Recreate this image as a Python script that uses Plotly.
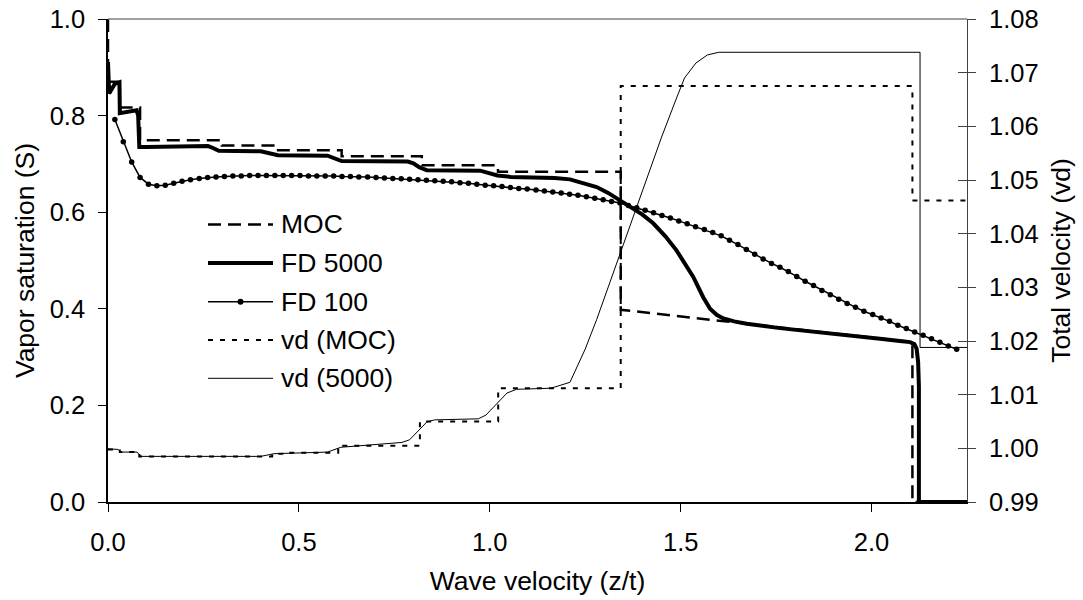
import plotly.graph_objects as go

# ---- Saturation profiles, S versus z/t ----
# Method of characteristics (steps, shock at 1.343, rarefaction tail, trailing shock)
moc_x = [0.0, 0.0, 0.031, 0.031, 0.084, 0.084, 0.298, 0.298, 0.433, 0.433,
         0.612, 0.612, 0.822, 0.822, 1.0215, 1.0215, 1.343, 1.343, 2.107, 2.107, 2.25]
moc_s = [1.0, 0.870, 0.870, 0.817, 0.817, 0.749, 0.749, 0.738, 0.738, 0.7285,
         0.7285, 0.716, 0.716, 0.697, 0.697, 0.6835, 0.6835, 0.398, 0.331, 0.0, 0.0]

# Finite differences, 5000 cells
fd5000_x = [0.000, 0.003, 0.018, 0.030, 0.031, 0.040, 0.075, 0.079, 0.082, 0.100,
            0.200, 0.262, 0.275, 0.290, 0.400, 0.420, 0.445, 0.575, 0.590, 0.612,
            0.785, 0.800, 0.815, 0.835, 0.975, 0.995, 1.020, 1.055, 1.170, 1.210,
            1.250, 1.280, 1.310, 1.341, 1.376, 1.400, 1.428, 1.460, 1.489, 1.510,
            1.533, 1.559, 1.577, 1.595, 1.612, 1.640, 1.673, 1.760, 1.847, 1.940,
            2.022, 2.080, 2.101, 2.112, 2.118, 2.122, 2.124, 2.124, 2.25]
fd5000_s = [0.911, 0.846, 0.866, 0.869, 0.805, 0.806, 0.811, 0.800, 0.735, 0.735,
            0.736, 0.737, 0.733, 0.727, 0.726, 0.723, 0.718, 0.717, 0.713, 0.706,
            0.705, 0.701, 0.693, 0.687, 0.686, 0.681, 0.676, 0.673, 0.671, 0.668,
            0.660, 0.652, 0.640, 0.625, 0.608, 0.595, 0.577, 0.550, 0.521, 0.495,
            0.466, 0.424, 0.400, 0.387, 0.380, 0.374, 0.369, 0.360, 0.352, 0.345,
            0.338, 0.333, 0.331, 0.327, 0.3175, 0.290, 0.240, 0.0, 0.0]

# Finite differences, 100 cells (one marker per cell)
fd100_x = [0.018, 0.040, 0.062, 0.084, 0.106, 0.128, 0.150, 0.172, 0.194, 0.216,
           0.239, 0.261, 0.283, 0.305, 0.327, 0.349, 0.371, 0.393, 0.415, 0.437,
           0.459, 0.481, 0.503, 0.525, 0.547, 0.569, 0.591, 0.613, 0.635, 0.657,
           0.680, 0.702, 0.724, 0.746, 0.768, 0.790, 0.812, 0.834, 0.856, 0.878,
           0.900, 0.922, 0.944, 0.966, 0.988, 1.010, 1.032, 1.054, 1.076, 1.098,
           1.121, 1.143, 1.165, 1.187, 1.209, 1.231, 1.253, 1.275, 1.297, 1.319,
           1.341, 1.363, 1.385, 1.407, 1.429, 1.451, 1.473, 1.495, 1.517, 1.539,
           1.562, 1.584, 1.606, 1.628, 1.650, 1.672, 1.694, 1.716, 1.738, 1.760,
           1.782, 1.804, 1.826, 1.848, 1.870, 1.892, 1.914, 1.936, 1.958, 1.980,
           2.003, 2.025, 2.047, 2.069, 2.091, 2.113, 2.135, 2.157, 2.179, 2.201,
           2.223]
fd100_s = [0.792, 0.746, 0.704, 0.672, 0.658, 0.655, 0.656, 0.660, 0.664, 0.667,
           0.670, 0.672, 0.673, 0.674, 0.675, 0.675, 0.676, 0.676, 0.676, 0.676,
           0.676, 0.676, 0.676, 0.675, 0.675, 0.675, 0.675, 0.674, 0.674, 0.673,
           0.673, 0.672, 0.671, 0.670, 0.669, 0.668, 0.667, 0.666, 0.665, 0.664,
           0.663, 0.661, 0.660, 0.658, 0.656, 0.655, 0.653, 0.651, 0.649, 0.648,
           0.646, 0.644, 0.642, 0.640, 0.637, 0.635, 0.632, 0.629, 0.626, 0.622,
           0.619, 0.614, 0.609, 0.604, 0.599, 0.593, 0.588, 0.582, 0.576, 0.570,
           0.564, 0.558, 0.551, 0.542, 0.533, 0.523, 0.513, 0.503, 0.494, 0.486,
           0.477, 0.467, 0.457, 0.448, 0.438, 0.429, 0.420, 0.411, 0.403, 0.395,
           0.388, 0.381, 0.374, 0.366, 0.359, 0.352, 0.345, 0.338, 0.331, 0.323,
           0.316]

# ---- Total velocity profiles, vd versus z/t ----
vd_moc_x = [0.0, 0.031, 0.082, 0.43, 0.47, 0.603, 0.817, 1.022, 1.343, 2.107, 2.25]
vd_moc = [0.9998, 0.9993, 0.9985, 0.9990, 0.9992, 1.0005, 1.0050, 1.0112, 1.0675,
          1.0462, 1.0462]

vd5000_x = [0.0, 0.026, 0.034, 0.076, 0.086, 0.40, 0.435, 0.575, 0.61, 0.77,
            0.79, 0.81, 0.835, 0.855, 0.97, 0.99, 1.018, 1.045, 1.07, 1.16,
            1.21, 1.25, 1.28, 1.31, 1.343, 1.40, 1.45, 1.485, 1.51, 1.54,
            1.57, 1.60, 2.127, 2.127, 2.25]
vd5000 = [0.9999, 0.9998, 0.9993, 0.9993, 0.9985, 0.9985, 0.9990, 0.9993, 1.0002, 1.0011,
          1.0016, 1.0030, 1.0049, 1.0053, 1.0055, 1.0062, 1.0083, 1.0103, 1.0110, 1.0112,
          1.0123, 1.0185, 1.0240, 1.0300, 1.0370, 1.0482, 1.0580, 1.0645, 1.0690, 1.0718,
          1.0733, 1.0738, 1.0738, 1.0188, 1.0188]

x_ticks = [0.0, 0.5, 1.0, 1.5, 2.0]
s_ticks = [0.0, 0.2, 0.4, 0.6, 0.8, 1.0]
vd_ticks = [0.99, 1.00, 1.01, 1.02, 1.03, 1.04, 1.05, 1.06, 1.07, 1.08]

legend_names = ["MOC", "FD 5000", "FD 100", "vd (MOC)", "vd (5000)"]

FONT = "Liberation Sans, Arial, sans-serif"
BLACK = "#000000"

MOC_DASH = "13px,7px"
VD_MOC_DASH = "5px,7px"

fig = go.Figure()

fig.add_trace(go.Scatter(x=vd_moc_x, y=vd_moc, yaxis="y2", mode="lines",
                         line=dict(color=BLACK, width=2, dash=VD_MOC_DASH, shape="hv"),
                         name=legend_names[3], showlegend=False))
fig.add_trace(go.Scatter(x=vd5000_x, y=vd5000, yaxis="y2", mode="lines",
                         line=dict(color=BLACK, width=1),
                         name=legend_names[4], showlegend=False))
fig.add_trace(go.Scatter(x=moc_x, y=moc_s, mode="lines",
                         line=dict(color=BLACK, width=2.5, dash=MOC_DASH),
                         name=legend_names[0], showlegend=False))
fig.add_trace(go.Scatter(x=fd100_x, y=fd100_s, mode="lines+markers",
                         line=dict(color=BLACK, width=1.5),
                         marker=dict(color=BLACK, size=5.5, symbol="circle"),
                         name=legend_names[2], showlegend=False))
fig.add_trace(go.Scatter(x=fd5000_x, y=fd5000_s, mode="lines",
                         line=dict(color=BLACK, width=4),
                         name=legend_names[1], showlegend=False))

# Hand-placed legend block inside the plot area (paper coordinates)
PLOT_L, PLOT_W, PLOT_B, PLOT_H = 108, 859, 502, 483
def px_x(p):
    return (p - PLOT_L) / PLOT_W
def px_y(p):
    return (PLOT_B - p) / PLOT_H

row_y = [224.5, 263, 301.7, 340, 378.3]
row_styles = [dict(width=2.5, dash=MOC_DASH), dict(width=4), dict(width=1.5),
              dict(width=2, dash=VD_MOC_DASH), dict(width=1)]
shapes = []
annotations = []
for name, py, st in zip(legend_names, row_y, row_styles):
    shapes.append(dict(type="line", xref="paper", yref="paper",
                       x0=px_x(208), x1=px_x(273), y0=px_y(py), y1=px_y(py),
                       line=dict(color=BLACK, **st)))
    annotations.append(dict(text=name, xref="paper", yref="paper",
                            x=px_x(279), y=px_y(py), xanchor="left", yanchor="middle",
                            showarrow=False, font=dict(family=FONT, size=26.5, color=BLACK)))
# marker on the FD 100 legend sample
shapes.append(dict(type="circle", xref="paper", yref="paper",
                   x0=px_x(240.5 - 3), x1=px_x(240.5 + 3),
                   y0=px_y(301.7 + 3), y1=px_y(301.7 - 3),
                   fillcolor=BLACK, line=dict(color=BLACK, width=0)))
# gray frame line along the top of the plot area
shapes.append(dict(type="line", xref="paper", yref="paper", x0=0, x1=1, y0=1, y1=1,
                   line=dict(color="#808080", width=1.5)))

tick_font = dict(family=FONT, size=25.5, color=BLACK)
title_font = dict(family=FONT, size=26.5, color=BLACK)

fig.update_layout(
    width=1083, height=600,
    margin=dict(l=108, r=116, t=19, b=98, pad=0),
    paper_bgcolor="white", plot_bgcolor="white",
    font=tick_font,
    showlegend=False,
    shapes=shapes, annotations=annotations,
    xaxis=dict(range=[0, 2.25], tickvals=x_ticks, tickformat=".1f",
               showgrid=False, zeroline=False, showline=True, linecolor=BLACK, linewidth=1.5,
               ticks="outside", ticklen=8, tickcolor=BLACK, tickwidth=1,
               ticklabelstandoff=9, tickfont=tick_font, automargin=False,
               title=dict(text="Wave velocity (z/t)", font=title_font, standoff=16)),
    yaxis=dict(range=[0, 1], tickvals=s_ticks, tickformat=".1f",
               showgrid=False, zeroline=False, showline=True, linecolor=BLACK, linewidth=1.5,
               ticks="outside", ticklen=8, tickcolor=BLACK, tickwidth=1,
               ticklabelstandoff=8, tickfont=tick_font, automargin=False,
               title=dict(text="Vapor saturation (S)", font=title_font, standoff=7)),
    yaxis2=dict(range=[0.99, 1.08], tickvals=vd_ticks, tickformat=".2f",
                overlaying="y", side="right",
                showgrid=False, zeroline=False, showline=True, linecolor="#404040", linewidth=1,
                ticks="outside", ticklen=8, tickcolor="#404040", tickwidth=1,
                ticklabelstandoff=8, tickfont=tick_font, automargin=False,
                title=dict(text="Total velocity (vd)", font=title_font, standoff=13)),
    # inner half of the crossing tick marks on the right-hand axis
    yaxis3=dict(range=[0.99, 1.08], tickvals=vd_ticks, overlaying="y", side="right",
                showgrid=False, zeroline=False, showline=False, showticklabels=False,
                ticks="inside", ticklen=9, tickcolor="#404040", tickwidth=1,
                automargin=False),
)

# empty trace bound to the third axis so its tick marks are laid out
fig.add_trace(go.Scatter(x=[], y=[], yaxis="y3", showlegend=False, hoverinfo="skip"))

fig.write_html("out.html")
